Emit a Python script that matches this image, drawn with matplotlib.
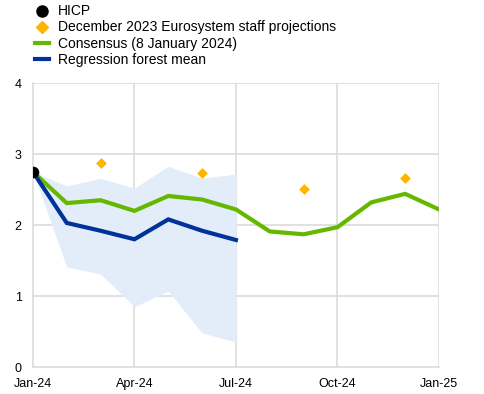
import matplotlib
matplotlib.use("Agg")
import matplotlib.pyplot as plt
from matplotlib.lines import Line2D
import numpy as np

plt.rcParams['font.family'] = ['Liberation Sans', 'DejaVu Sans']

months = list(range(13))
tick_pos = [0, 3, 6, 9, 12]
tick_labels = ["Jan-24", "Apr-24", "Jul-24", "Oct-24", "Jan-25"]

hicp_x = [0]
hicp_y = [2.75]

proj_x = [2, 5, 8, 11]
proj_y = [2.87, 2.73, 2.51, 2.66]

consensus_y = [2.75, 2.31, 2.35, 2.20, 2.41, 2.36, 2.22, 1.91, 1.87, 1.97, 2.32, 2.44, 2.22]

forest_x = [0, 1, 2, 3, 4, 5, 6]
forest_mean = [2.75, 2.03, 1.92, 1.80, 2.08, 1.92, 1.79]
forest_upper = [2.75, 2.55, 2.66, 2.52, 2.83, 2.66, 2.72]
forest_lower = [2.75, 1.41, 1.31, 0.85, 1.07, 0.48, 0.35]

GREEN = "#65b800"
BLUE = "#003299"
ORANGE = "#ffb400"
BAND = "#e3edf9"
GRID = "#d9d9d9"

fig = plt.figure(figsize=(4.84, 3.94), dpi=100)
ax = fig.add_axes([0.068, 0.0685, 0.839, 0.7205])

ax.fill_between(forest_x, forest_lower, forest_upper, color=BAND, lw=0, zorder=1)
ax.plot(months, consensus_y, color=GREEN, lw=3, zorder=3, solid_joinstyle='miter')
ax.plot(forest_x, forest_mean, color=BLUE, lw=3, zorder=4, solid_joinstyle='miter')
ax.scatter(proj_x, proj_y, marker='D', s=30, color=ORANGE, zorder=5, linewidths=0)
ax.scatter(hicp_x, hicp_y, marker='o', s=70, color='black', zorder=6, linewidths=0)

ax.set_xlim(0, 12)
ax.set_ylim(0, 4)
ax.set_xticks(tick_pos)
ax.set_xticklabels(tick_labels)
ax.set_yticks([0, 1, 2, 3, 4])
ax.tick_params(axis='both', length=0, labelsize=9, colors='#000000')
ax.tick_params(axis='y', pad=8)
ax.tick_params(axis='x', pad=8)
for t in ax.get_yticklabels():
    t.set_horizontalalignment('right')

for y in [1, 2, 3, 4]:
    ax.axhline(y, color=GRID, lw=1.1, zorder=0)
for x in [3, 6, 9, 12]:
    ax.axvline(x, color=GRID, lw=1.1, zorder=0)
for s in ['top', 'right']:
    ax.spines[s].set_visible(False)
ax.spines['left'].set_color(GRID)
ax.spines['left'].set_linewidth(1.1)
ax.spines['bottom'].set_color(GRID)
ax.spines['bottom'].set_linewidth(1.1)

handles = [
    Line2D([], [], marker='o', color='black', linestyle='none', markersize=8),
    Line2D([], [], marker='D', color=ORANGE, linestyle='none', markersize=6),
    Line2D([], [], color=GREEN, lw=3),
    Line2D([], [], color=BLUE, lw=3),
]
labels = ["HICP", "December 2023 Eurosystem staff projections",
          "Consensus (8 January 2024)", "Regression forest mean"]
fig.legend(handles, labels, loc='upper left', bbox_to_anchor=(0.055, 1.01),
           frameon=False, fontsize=10, handlelength=1.0, handletextpad=0.65,
           labelspacing=0.15, borderaxespad=0.2)

fig.savefig("out.png", dpi=100)
